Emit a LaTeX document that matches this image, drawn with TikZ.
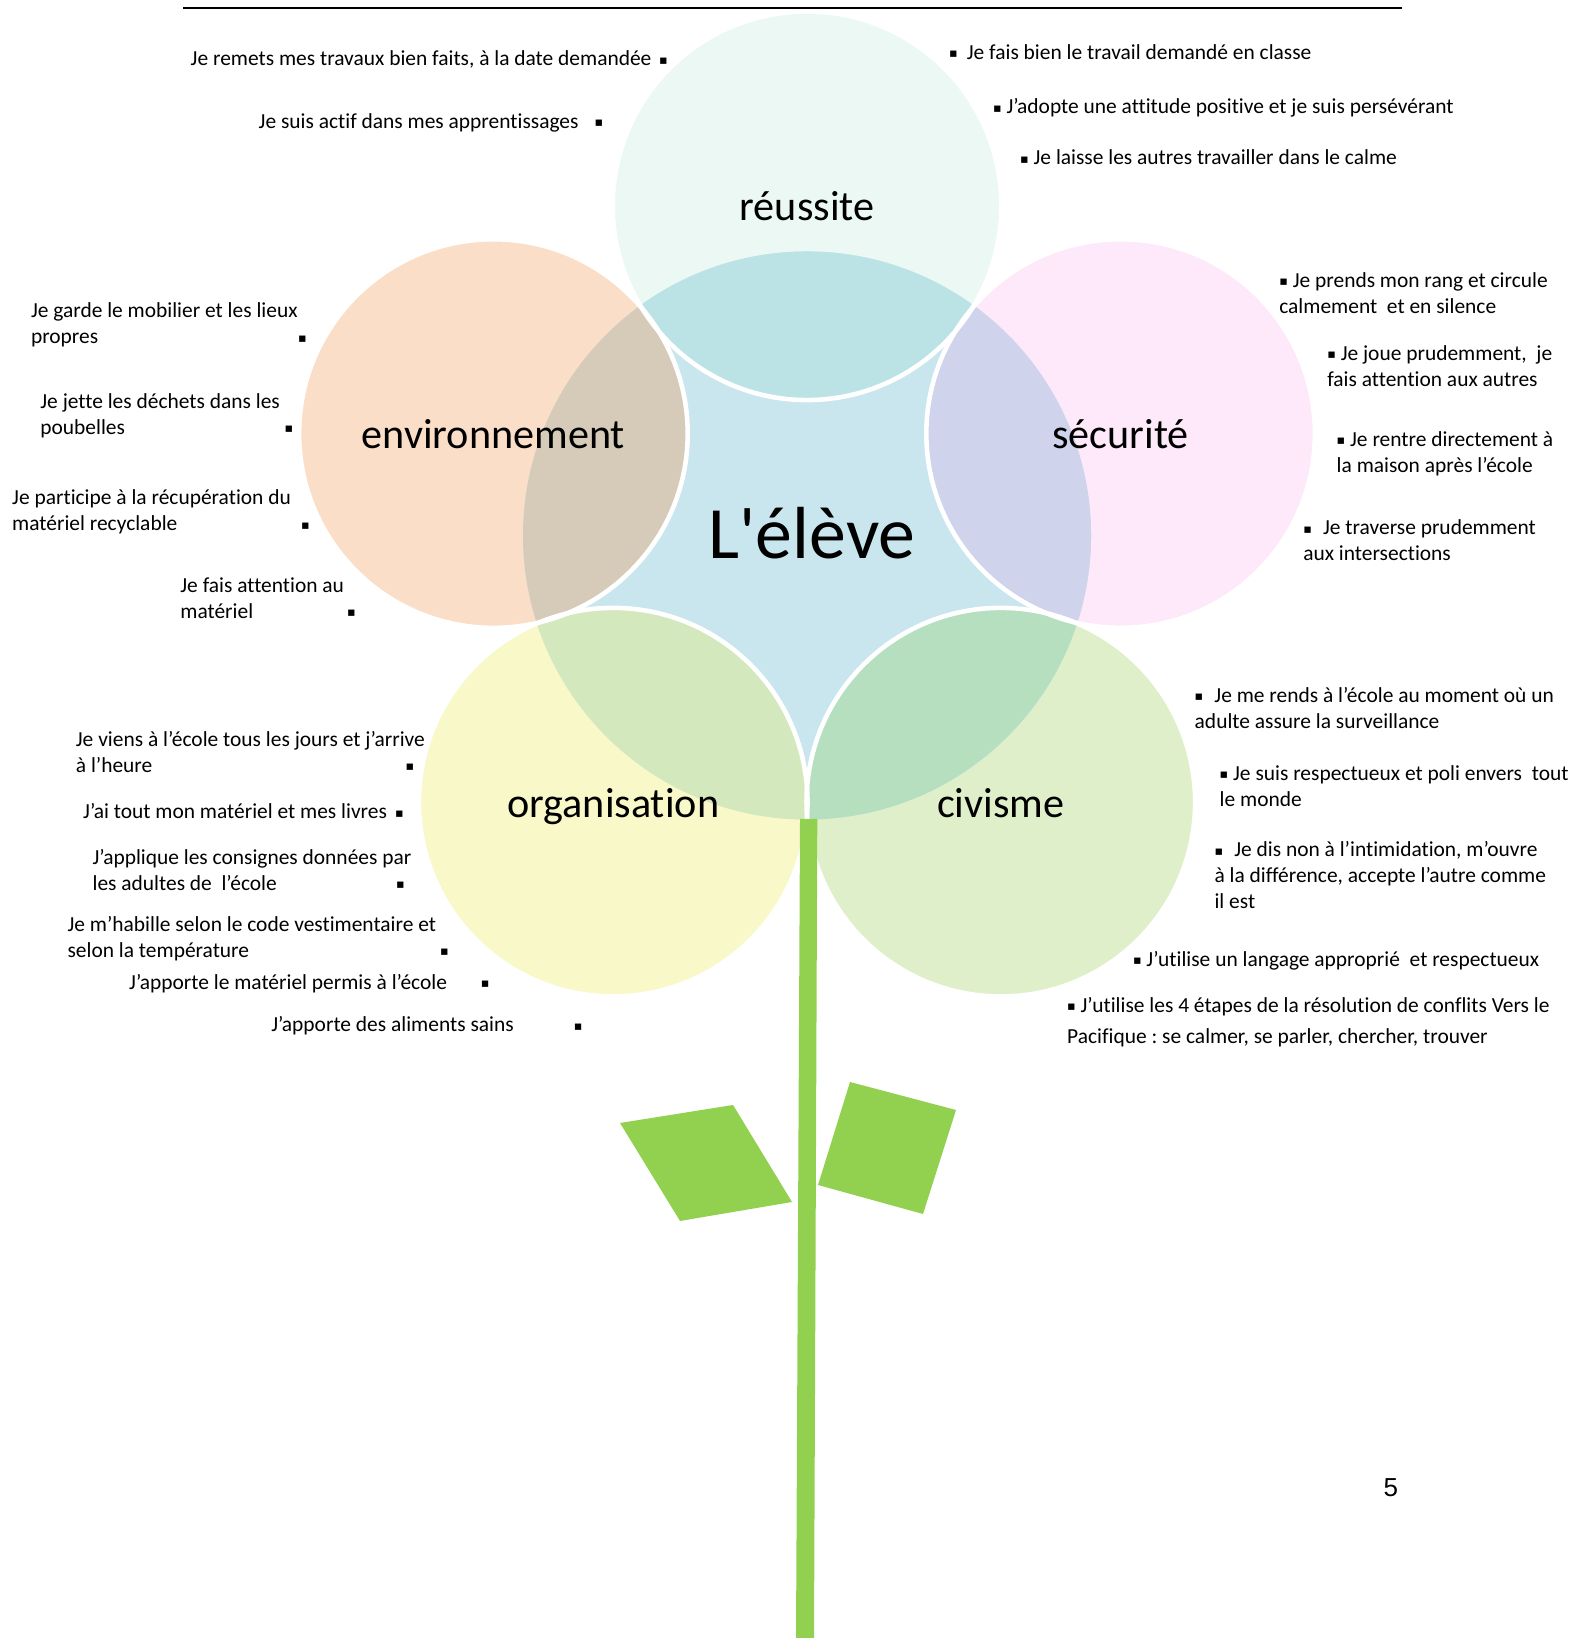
\documentclass[tikz,border=0pt]{standalone}
\usepackage{fontspec}
\setmainfont{Carlito}[Ligatures={TeX,NoCommon}]
\newfontfamily\namefont{Carlito}
\newfontfamily\bulfont{DejaVu Sans}
\newfontfamily\pagefont{Liberation Sans}

\definecolor{elevecol}{HTML}{C9E6EE}
\definecolor{reucol}{HTML}{ECF8F4}
\definecolor{reuov}{HTML}{BBE3E5}
\definecolor{envcol}{HTML}{FADEC7}
\definecolor{envov}{HTML}{D6CBB9}
\definecolor{seccol}{HTML}{FDE9F9}
\definecolor{secov}{HTML}{CFD3EC}
\definecolor{orgcol}{HTML}{F9F8C8}
\definecolor{orgov}{HTML}{D4E8BD}
\definecolor{civcol}{HTML}{DFEFC9}
\definecolor{civov}{HTML}{B6DFC0}
\definecolor{leafcol}{HTML}{92D050}

\newcommand\itemfont{\fontsize{6.1}{7.4}\selectfont\frenchspacing}
\newcommand\bul{\raisebox{0.5pt}{\bulfont\fontsize{3.6}{4}\selectfont ▪}}
\newcommand\tailbul[2]{\makebox[#1][l]{#2\hfill\bul}}

\tikzset{
  petal/.style={draw=white, line width=1.3pt},
  item/.style={anchor=north west, inner sep=0pt, align=left, font=\itemfont,
    execute at begin node=\strut},
  title/.style={anchor=base, inner sep=0pt, yshift=-0.15cm,
    font=\fontsize{12}{14}\selectfont},
}

\begin{document}
\begin{tikzpicture}
  \useasboundingbox (0,0) rectangle (15.69,16.38);
  % header rule
  \coordinate (ruleL) at (1.83,16.296);
  \coordinate (ruleR) at (14.02,16.296);
  \draw[line width=0.6pt] (ruleL) -- (ruleR);

  % flower
  \coordinate (c) at (8.07,11.025);
  \coordinate (reu) at (8.07,14.322);
  \coordinate (env) at (4.934,12.044);
  \coordinate (sec) at (11.206,12.044);
  \coordinate (org) at (6.132,8.358);
  \coordinate (civ) at (10.008,8.358);

  \fill[reucol] (reu) circle (1.943);
  \fill[seccol] (sec) circle (1.943);
  \fill[civcol] (civ) circle (1.943);
  \fill[orgcol] (org) circle (1.943);
  \fill[envcol] (env) circle (1.943);
  \fill[elevecol] (c) circle (2.84);
  \begin{scope}
    \clip (c) circle (2.84);
    \fill[reuov] (reu) circle (1.943);
    \fill[secov] (sec) circle (1.943);
    \fill[civov] (civ) circle (1.943);
    \fill[orgov] (org) circle (1.943);
    \fill[envov] (env) circle (1.943);
  \end{scope}
  \draw[petal] (reu) circle (1.943);
  \draw[petal] (sec) circle (1.943);
  \draw[petal] (civ) circle (1.943);
  \draw[petal] (env) circle (1.943);
  \draw[petal] (org) circle (1.943);

  % stem and leaves
  \fill[leafcol] (8.00,8.19) -- (8.173,8.19) -- (8.14,0) -- (7.96,0) -- cycle;
  \fill[leafcol] (6.20,5.15) -- (7.33,5.33) -- (7.92,4.36) -- (6.80,4.17) -- cycle;
  \fill[leafcol] (8.50,5.56) -- (9.56,5.28) -- (9.23,4.24) -- (8.18,4.53) -- cycle;

  \node[anchor=base, inner sep=0pt, xshift=0.05cm, yshift=-0.23cm,
    font=\namefont\fontsize{21}{24}\selectfont] (eleve) at (c) {L'élève};
  \node[title] (treu) at (reu) {réussite};
  \node[title] (tenv) at (env) {environnement};
  \node[title] (tsec) at (sec) {sécurité};
  \node[title] (torg) at (org) {organisation};
  \node[title] (tciv) at (civ) {civisme};

  % left
  \node[item] (remets) at (1.90,15.911) {\tailbul{4.77cm}{Je remets mes travaux bien faits, à la date demandée}};
  \node[item] (actif) at (2.58,15.284) {\tailbul{3.446cm}{Je suis actif dans mes apprentissages}};
  \node[item] (garde) at (0.303,13.358) {Je garde le mobilier et les lieux\\\tailbul{2.756cm}{propres}};
  \node[item] (jette) at (0.397,12.449) {Je jette les déchets dans les\\\tailbul{2.527cm}{poubelles}};
  \node[item] (recup) at (0.115,11.488) {Je participe à la récupération du\\\tailbul{2.976cm}{matériel recyclable}};
  \node[item] (soin) at (1.797,10.611) {Je fais attention au\\\tailbul{1.753cm}{matériel}};
  \node[item] (viens) at (0.752,9.075) {Je viens à l’école tous les jours et j’arrive\\\tailbul{3.383cm}{à l’heure}};
  \node[item] (livres) at (0.825,8.38) {\tailbul{3.206cm}{J’ai tout mon matériel et mes livres}};
  \node[item] (consignes) at (0.919,7.895) {J’applique les consignes données par\\\tailbul{3.122cm}{les adultes de\ \ l’école}};
  \node[item] (habille) at (0.669,7.227) {Je m’habille selon le code vestimentaire et\\\tailbul{3.811cm}{selon la température}};
  \node[item] (permis) at (1.285,6.677) {\tailbul{3.602cm}{J’apporte le matériel permis à l’école}};
  \node[item] (sains) at (2.706,6.249) {\tailbul{3.111cm}{J’apporte des aliments sains}};

  % right
  \node[item] (travail) at (9.485,15.974) {\bul\hspace{1.2pt}\ Je fais bien le travail demandé en classe};
  \node[item] (attitude) at (9.924,15.431) {\bul\ J’adopte une attitude positive et je suis persévérant};
  \node[item] (calme) at (10.195,14.919) {\bul\ Je laisse les autres travailler dans le calme};
  \node[item] (rang) at (12.786,13.661) {\bul\ Je prends mon rang et circule\\calmement\ \ et en silence};
  \node[item] (joue) at (13.266,12.93) {\bul\ Je joue prudemment,\ \ je\\fais attention aux autres};
  \node[item] (rentre) at (13.36,12.07) {\bul\ Je rentre directement à\\la maison après l’école};
  \node[item] (traverse) at (13.026,11.186) {\bul\hspace{1.8pt}\ Je traverse prudemment\\aux intersections};
  \node[item] (rends) at (11.94,9.514) {\bul\hspace{1.8pt}\ Je me rends à l’école au moment où un\\adulte assure la surveillance};
  \node[item] (poli) at (12.19,8.731) {\bul\ Je suis respectueux et poli envers\ \ tout\\le monde};
  \node[item] (intim) at (12.138,7.969) {\bul\hspace{1.8pt}\ Je dis non à l’intimidation, m’ouvre\\à la différence, accepte l’autre comme\\il est};
  \node[item] (langage) at (11.323,6.907) {\bul\ J’utilise un langage approprié\ \ et respectueux};
  \node[item] (conflits) at (10.665,6.412) {\bul\ J’utilise les 4 étapes de la résolution de conflits Vers le\\[1.5pt]Pacifique : se calmer, se parler, chercher, trouver};

  \node[anchor=base, inner sep=0pt, font=\pagefont\fontsize{7.4}{9}\selectfont] (page) at (13.908,1.413) {5};
\end{tikzpicture}
\end{document}
